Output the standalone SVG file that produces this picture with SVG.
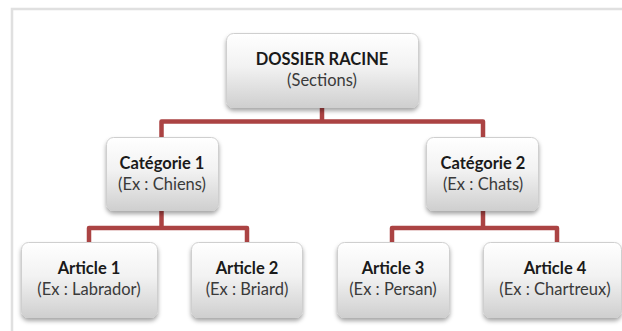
<svg xmlns="http://www.w3.org/2000/svg" width="622" height="331" viewBox="0 0 622 331">
  <defs>
    <linearGradient id="boxFill" x1="0" y1="0" x2="0" y2="1">
      <stop offset="0" stop-color="#ffffff"/>
      <stop offset="0.45" stop-color="#f2f2f2"/>
      <stop offset="1" stop-color="#cfcfcf"/>
    </linearGradient>
    <filter id="shadow" x="-10%" y="-10%" width="120%" height="130%">
      <feDropShadow dx="0" dy="3" stdDeviation="2" flood-color="#000000" flood-opacity="0.35"/>
    </filter>
    <style>
      .box { fill: url(#boxFill); stroke: #cfcfcf; stroke-width: 1; filter: url(#shadow); }
      .t1 { font-family: Lato, "Liberation Sans", sans-serif; font-weight: bold; font-size: 16.5px; fill: #1a1a1a; text-anchor: middle; }
      .t2 { font-family: Lato, "Liberation Sans", sans-serif; font-size: 16.5px; fill: #3a3a3a; text-anchor: middle; }
      .conn { fill: none; stroke: #ab4343; stroke-width: 4.5; stroke-linejoin: round; }
      .frame { fill: none; stroke: #e0e0e0; stroke-width: 2.5; }
    </style>
  </defs>
  <rect x="0" y="0" width="622" height="331" fill="#ffffff"/>
  <path class="frame" d="M12,331 V9 H622"/>

  <g id="connectors">
    <path class="conn" d="M322,108 V121.5"/>
    <path class="conn" d="M161.5,137 V121.5 H483 V137"/>
    <path class="conn" d="M161.5,211 V228"/>
    <path class="conn" d="M89,242 V228 H247 V242"/>
    <path class="conn" d="M483,211 V228"/>
    <path class="conn" d="M392,242 V228 H557 V242"/>
  </g>

  <g id="root">
    <rect class="box" x="226.5" y="33.5" width="192" height="74" rx="7"/>
    <text class="t1" x="322" y="65">DOSSIER RACINE</text>
    <text class="t2" x="322" y="85.5">(Sections)</text>
  </g>

  <g id="cat1">
    <rect class="box" x="106.5" y="137.5" width="112" height="73" rx="7"/>
    <text class="t1" x="162" y="169">Catégorie 1</text>
    <text class="t2" x="162" y="189.5">(Ex : Chiens)</text>
  </g>

  <g id="cat2">
    <rect class="box" x="426.5" y="137.5" width="112" height="73" rx="7"/>
    <text class="t1" x="483" y="169">Catégorie 2</text>
    <text class="t2" x="483" y="189.5">(Ex : Chats)</text>
  </g>

  <g id="art1">
    <rect class="box" x="21.5" y="242.5" width="136" height="75" rx="7"/>
    <text class="t1" x="89" y="274">Article 1</text>
    <text class="t2" x="89" y="294.5">(Ex : Labrador)</text>
  </g>

  <g id="art2">
    <rect class="box" x="191.5" y="242.5" width="111" height="75" rx="7"/>
    <text class="t1" x="247" y="274">Article 2</text>
    <text class="t2" x="247" y="294.5">(Ex : Briard)</text>
  </g>

  <g id="art3">
    <rect class="box" x="337.5" y="242.5" width="112" height="75" rx="7"/>
    <text class="t1" x="393" y="274">Article 3</text>
    <text class="t2" x="393" y="294.5">(Ex : Persan)</text>
  </g>

  <g id="art4">
    <rect class="box" x="483.5" y="242.5" width="138" height="75" rx="7"/>
    <text class="t1" x="555" y="274">Article 4</text>
    <text class="t2" x="555" y="294.5">(Ex : Chartreux)</text>
  </g>
</svg>
